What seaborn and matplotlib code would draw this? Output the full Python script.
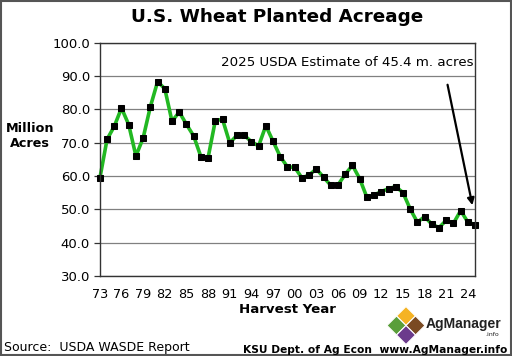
import matplotlib
matplotlib.use("Agg")
import matplotlib.pyplot as plt
from matplotlib.patches import Rectangle, Polygon
import seaborn as sns
import pandas as pd

years = list(range(1973, 2026))
acres = [59.3, 71.0, 74.9, 80.4, 75.4, 66.0, 71.4, 80.8, 88.3, 86.2,
         76.4, 79.2, 75.5, 72.0, 65.8, 65.5, 76.6, 77.0, 69.9, 72.2,
         72.2, 70.3, 69.0, 75.1, 70.4, 65.8, 62.7, 62.6, 59.4, 60.3,
         62.1, 59.6, 57.2, 57.3, 60.5, 63.2, 59.2, 53.6, 54.3, 55.3,
         56.2, 56.8, 55.0, 50.1, 46.1, 47.8, 45.5, 44.5, 46.7, 45.8,
         49.6, 46.1, 45.4]
label_years = list(range(1973, 2025, 3))
y_ticks = [30, 40, 50, 60, 70, 80, 90, 100]

df = pd.DataFrame({"year": years, "acres": acres})

sns.set_style("white")
plt.rcParams["font.family"] = ["DejaVu Sans"]
plt.rcParams.update({"text.color": "black", "axes.labelcolor": "black",
                     "xtick.color": "black", "ytick.color": "black"})

fig = plt.figure(figsize=(5.12, 3.56), dpi=100)
ax = fig.add_axes([0.195, 0.225, 0.733, 0.655])

sns.lineplot(data=df, x="year", y="acres", ax=ax, color="#22b822", linewidth=2.6,
             marker="s", markersize=4.6, markerfacecolor="black", markeredgecolor="black",
             clip_on=False)

ax.set_xlim(1973, 2025)
ax.set_ylim(30, 100)
ax.set_yticks(y_ticks)
ax.set_yticklabels([f"{v:.1f}" for v in y_ticks], fontsize=9.5)
ax.set_xticks(label_years)
ax.set_xticklabels([f"{y % 100:02d}" for y in label_years], fontsize=9.3)
ax.set_xticks(range(1973, 2026, 2), minor=True)
ax.tick_params(axis="x", which="major", length=0, pad=9)
ax.tick_params(axis="x", which="minor", length=7, direction="inout", width=0.9, color="#333333")
ax.tick_params(axis="y", length=4, direction="out", width=0.9, color="#333333", pad=3, left=True)
ax.yaxis.grid(True, color="#808080", linewidth=0.9)
ax.set_axisbelow(True)
for s in ax.spines.values():
    s.set_color("#333333")
    s.set_linewidth(1.0)

ax.set_xlabel("Harvest Year", fontsize=9.6, fontweight="bold", labelpad=1)
ax.set_ylabel("")

fig.text(0.541, 0.952, "U.S. Wheat Planted Acreage", ha="center", va="center",
         fontsize=13.2, fontweight="bold")
fig.text(0.059, 0.618, "Million\nAcres", ha="center", va="center", fontsize=9.2,
         fontweight="bold", linespacing=1.15)

ax.text(2024.8, 94.0, "2025 USDA Estimate of 45.4 m. acres", ha="right", va="center",
        fontsize=9.6)
ax.annotate("", xy=(2024.7, 50.4), xytext=(2021.1, 88.2),
            arrowprops=dict(arrowstyle="-|>", color="black", lw=1.6, mutation_scale=10))

fig.text(0.008, 0.025, "Source:  USDA WASDE Report", ha="left", va="center",
         fontsize=9, color="black")
fig.text(0.99, 0.018, "KSU Dept. of Ag Econ  www.AgManager.info", ha="right", va="center",
         fontsize=7.7, fontweight="bold")

# AgManager logo
W, H = 512.0, 356.0
def diamond(cx, cy, r, color):
    pts = [(cx / W, 1 - (cy - r) / H), ((cx + r) / W, 1 - cy / H),
           (cx / W, 1 - (cy + r) / H), ((cx - r) / W, 1 - cy / H)]
    fig.patches.append(Polygon(pts, closed=True, transform=fig.transFigure,
                               facecolor=color, edgecolor="white", linewidth=0.8))
diamond(406, 316, 9.5, "#f5b324")
diamond(396.5, 325.5, 9.5, "#5a9e3a")
diamond(415.5, 325.5, 9.5, "#7a4a22")
diamond(406, 335, 9.5, "#6b3b8c")
fig.text(426 / W, 1 - 324 / H, "AgManager", ha="left", va="center", fontsize=10,
         fontweight="bold", family=["Liberation Sans"], color="#222222")
fig.text(499 / W, 1 - 334 / H, ".info", ha="right", va="center", fontsize=4.5,
         color="#222222")

fig.patches.append(Rectangle((0.002, 0.003), 0.996, 0.994, transform=fig.transFigure,
                             fill=False, edgecolor="#555555", linewidth=1.5))

fig.savefig("out.png", dpi=100)
